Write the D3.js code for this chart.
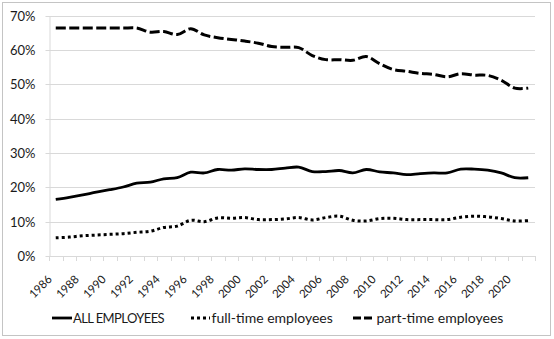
<!DOCTYPE html>
<html><head><meta charset="utf-8">
<script src="https://cdn.jsdelivr.net/npm/d3@7"></script>
<style>
html,body{margin:0;padding:0;background:#fff;}
svg{display:block;font-family:Lato,"Open Sans",sans-serif;}
</style></head>
<body>
<svg id="chart" width="554" height="339"></svg>
<script>
const years = d3.range(1986, 2022);
const tickLabels = ["1986","1988","1990","1992","1994","1996","1998","2000","2002","2004","2006","2008","2010","2012","2014","2016","2018","2020"];
const yTicks = [0,10,20,30,40,50,60,70];
const seriesNames = ["ALL EMPLOYEES","full-time employees","part-time employees"];
const allEmployees = [16.5,17.1,17.8,18.6,19.3,20.1,21.2,21.5,22.5,22.8,24.4,24.2,25.2,25.0,25.4,25.2,25.2,25.6,25.9,24.6,24.6,24.9,24.2,25.2,24.5,24.2,23.7,24.0,24.2,24.2,25.3,25.3,25.0,24.2,22.8,22.8];
const fullTime = [5.3,5.5,5.9,6.1,6.3,6.5,6.9,7.2,8.3,8.7,10.4,10.0,11.1,11.0,11.2,10.6,10.6,10.8,11.2,10.5,11.2,11.6,10.4,10.2,10.9,11.0,10.6,10.6,10.6,10.6,11.3,11.6,11.4,10.9,10.2,10.3];
const partTime = [66.4,66.4,66.4,66.4,66.4,66.4,66.4,65.2,65.4,64.5,66.2,64.4,63.6,63.1,62.6,62.0,61.0,60.8,60.7,58.4,57.2,57.2,57.0,58.1,56.0,54.3,53.8,53.2,52.9,52.2,53.1,52.7,52.6,51.2,48.9,48.9];

(function(){
const svg = d3.select("#chart");
const mLeft = 49, mRight = 535, mTop = 15.7, mBottom = 256;
const gridColor = "#d9d9d9", textColor = "#1a1a1a";

svg.append("rect").attr("x",2.5).attr("y",2.5).attr("width",548).attr("height",333)
  .attr("fill","none").attr("stroke","#c4c4c4").attr("stroke-width",1);

const x = d3.scaleBand().domain(years).range([mLeft,mRight]).paddingInner(0).paddingOuter(0);
const y = d3.scaleLinear().domain([0,70]).range([mBottom,mTop]);
const cx = d => x(d) + x.bandwidth()/2;

svg.append("g").selectAll("line").data(yTicks.filter(v=>v>0)).join("line")
  .attr("x1",mLeft).attr("x2",mRight)
  .attr("y1",d=>Math.round(y(d))+0.5).attr("y2",d=>Math.round(y(d))+0.5)
  .attr("stroke",gridColor).attr("stroke-width",1);

const yAxis = svg.append("g").attr("transform",`translate(${mLeft+0.5},0)`)
  .call(d3.axisLeft(y).tickValues(yTicks).tickFormat(d=>d+"%").tickSizeInner(4).tickSizeOuter(0).tickPadding(10));
yAxis.select(".domain").attr("stroke",gridColor);
yAxis.selectAll(".tick line").attr("stroke",gridColor);
yAxis.selectAll(".tick").attr("transform",d=>`translate(0,${Math.round(y(d))+0.5})`);
yAxis.selectAll("text").attr("font-size",13).attr("fill",textColor).attr("font-family","Lato");

svg.append("line").attr("x1",mLeft).attr("x2",mRight).attr("y1",mBottom+0.5).attr("y2",mBottom+0.5)
  .attr("stroke",gridColor);
const edges = years.map(d=>x(d)).concat([x(years[years.length-1])+x.bandwidth()]);
svg.append("g").selectAll("line").data(edges).join("line")
  .attr("x1",d=>Math.round(d)+0.5).attr("x2",d=>Math.round(d)+0.5)
  .attr("y1",mBottom).attr("y2",mBottom+5).attr("stroke",gridColor);

svg.append("g").selectAll("text").data(tickLabels).join("text")
  .attr("transform",d=>`translate(${cx(+d)-3},${mBottom+24}) rotate(-45)`)
  .attr("text-anchor","end").attr("font-size",11.5).attr("fill",textColor)
  .text(d=>d);

const line = d3.line().x((d,i)=>cx(years[i])).y(d=>y(d)).curve(d3.curveCatmullRom.alpha(0.5));
const styles = [
  {data:allEmployees, dash:null, w:2.8},
  {data:fullTime, dash:"3,3", w:3},
  {data:partTime, dash:"10,3.5", w:3}
];
styles.forEach(s=>{
  svg.append("path").attr("d",line(s.data)).attr("fill","none").attr("stroke","#000")
    .attr("stroke-width",s.w).attr("stroke-dasharray",s.dash);
});

const legendY = 318;
const legendItems = [
  {name:seriesNames[0], x0:52, x1:72, tx:73, fs:13, ls:-0.6, st:styles[0]},
  {name:seriesNames[1], x0:191, x1:210, tx:211.5, fs:14, ls:0, st:styles[1]},
  {name:seriesNames[2], x0:353, x1:375, tx:376.5, fs:14, ls:0, st:{dash:"8,3",w:3}}
];
const lg = svg.append("g");
legendItems.forEach(it=>{
  lg.append("line").attr("x1",it.x0).attr("x2",it.x1).attr("y1",legendY).attr("y2",legendY)
    .attr("stroke","#000").attr("stroke-width",it.st.w).attr("stroke-dasharray",it.st.dash);
  lg.append("text").attr("x",it.tx).attr("y",legendY+5).attr("font-size",it.fs)
    .attr("letter-spacing",it.ls).attr("fill",textColor).text(it.name);
});
})();
</script>
</body></html>
